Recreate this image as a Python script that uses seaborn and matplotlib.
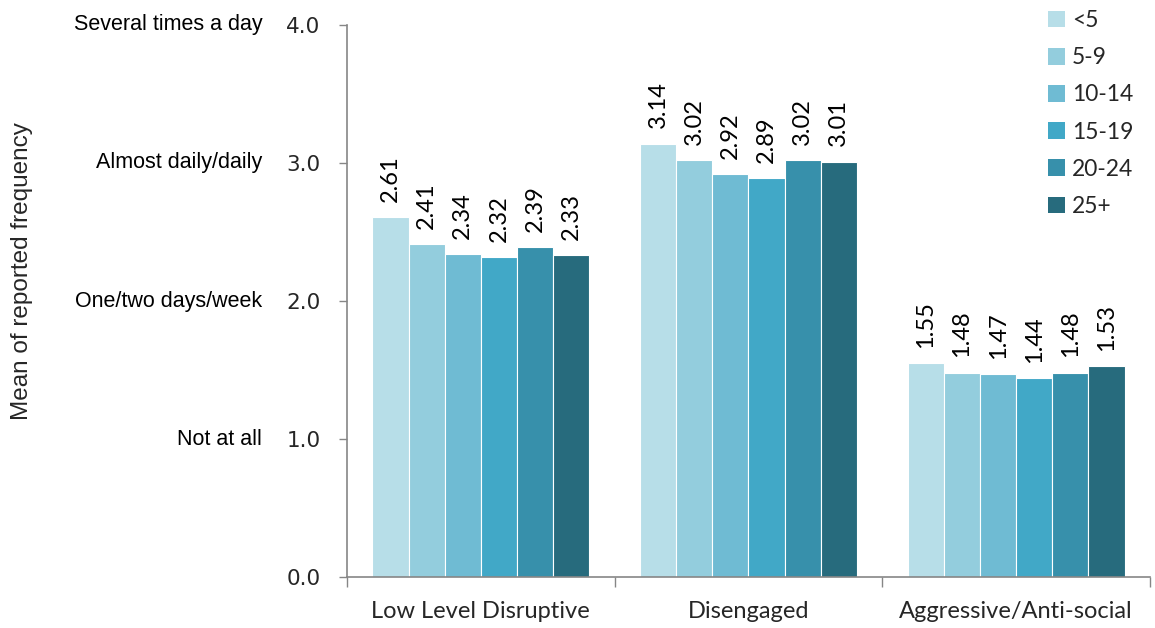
import matplotlib
matplotlib.use("Agg")
import matplotlib.pyplot as plt
import seaborn as sns
import pandas as pd
from matplotlib.patches import Patch

# Behaviour categories and years-of-teaching groups
categories = ["Low Level Disruptive", "Disengaged", "Aggressive/Anti-social"]
groups = ["<5", "5-9", "10-14", "15-19", "20-24", "25+"]

# Mean reported frequency per category, one list per experience group
lt5 = [2.61, 3.14, 1.55]
y5_9 = [2.41, 3.02, 1.48]
y10_14 = [2.34, 2.92, 1.47]
y15_19 = [2.32, 2.89, 1.44]
y20_24 = [2.39, 3.02, 1.48]
y25p = [2.33, 3.01, 1.53]

series = [lt5, y5_9, y10_14, y15_19, y20_24, y25p]

freq_labels = ["Not at all", "One/two days/week", "Almost daily/daily", "Several times a day"]
freq_levels = [1.0, 2.0, 3.0, 4.0]
y_ticks = [0.0, 1.0, 2.0, 3.0, 4.0]

palette = ["#b7dee8", "#93cddd", "#6fbbd3", "#41a8c7", "#3790ab", "#276b7d"]

rows = []
for g, vals in zip(groups, series):
    for c, v in zip(categories, vals):
        rows.append({"category": c, "group": g, "value": v})
df = pd.DataFrame(rows)

sns.set_style("white")
plt.rcParams["font.family"] = ["Liberation Sans", "DejaVu Sans"]

fig = plt.figure(figsize=(11.55, 6.28), dpi=100)
ax = fig.add_axes([0.3004, 0.0812, 0.6953, 0.879])

sns.barplot(data=df, x="category", y="value", hue="group", order=categories,
            hue_order=groups, palette=palette, saturation=1, width=0.81, ax=ax,
            edgecolor="white", linewidth=0.8, legend=False, errorbar=None)

# value labels above each bar
for container in ax.containers:
    for bar in container:
        h = bar.get_height()
        ax.annotate(f"{h:.2f}", (bar.get_x() + bar.get_width() / 2, h),
                    xytext=(0, 11), textcoords="offset points",
                    rotation=90, ha="center", va="bottom",
                    fontsize=17, family=["Lato", "DejaVu Sans"], color="black")

ax.set_ylim(0, 4.0)
ax.set_xlim(-0.5, 2.5)
ax.set_yticks(y_ticks)
ax.set_yticklabels([f"{t:.1f}" for t in y_ticks], family=["DejaVu Sans"], fontsize=15.5)
ax.tick_params(axis="y", direction="out", length=6, width=1, color="#868686",
               pad=13, left=True)

ax.set_xticks([0, 1, 2])
ax.set_xticklabels(categories, family=["Lato", "DejaVu Sans"], fontsize=17)
ax.tick_params(axis="x", length=0, pad=17)
ax.set_xticks([-0.5, 0.5, 1.5, 2.5], minor=True)
ax.tick_params(axis="x", which="minor", direction="out", length=7, width=1,
               color="#868686", bottom=True)

ax.set_xlabel("")
ax.set_ylabel("")
for side in ["top", "right"]:
    ax.spines[side].set_visible(False)
for side in ["left", "bottom"]:
    ax.spines[side].set_color("#868686")
    ax.spines[side].set_linewidth(1.2)

# verbal frequency scale to the left of the numeric ticks
for lvl, lab in zip(freq_levels, freq_labels):
    ax.annotate(lab, (0, lvl), xycoords=("axes fraction", "data"),
                xytext=(-61, 0), textcoords="offset points",
                ha="right", va="center", fontsize=15.5, color="black")

fig.text(0.019, 0.568, "Mean of reported frequency", rotation=90,
         ha="center", va="center", fontsize=17.5)

handles = [Patch(facecolor=c, edgecolor="none") for c in palette]
fig.legend(handles, groups, loc="upper left", bbox_to_anchor=(0.9074, 0.9841),
           frameon=False, handlelength=0.75, handleheight=0.75,
           labelspacing=0.71, handletextpad=0.3, borderpad=0, borderaxespad=0,
           prop={"family": ["Lato", "DejaVu Sans"], "size": 16.4})

fig.savefig("out.png", dpi=100)
